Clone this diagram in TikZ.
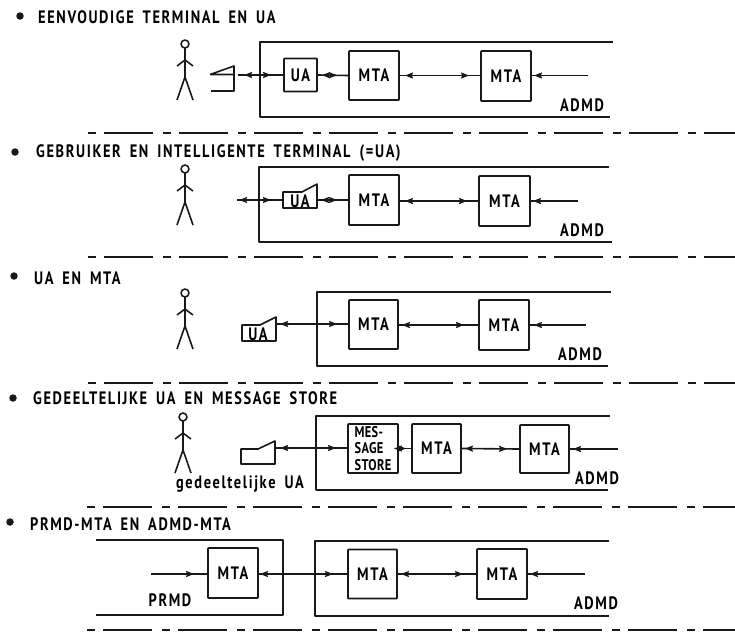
\documentclass[tikz,border=0pt]{standalone}
\usepackage{fontspec}
\setmainfont{PT Sans}
\newfontfamily\dinfont[FakeStretch=0.8,LetterSpace=9,WordSpace=1.7]{PT Sans}
\newfontfamily\dinsmall[FakeStretch=0.8,LetterSpace=2]{PT Sans}
\usetikzlibrary{arrows.meta,decorations.markings}
\tikzset{
  x=1pt,y=-1pt,
  every path/.append style={line join=round},
  tx/.style={inner sep=0pt,font=\fontsize{18}{18}\dinfont\bfseries},
  cbox/.style={draw=black!90,line width=1.8pt,rounded corners=0.6pt,inner sep=0pt,tx},
  dombox/.style={draw=black!90,line width=1.8pt},
  sep/.style={draw=black!90,line width=1.8pt,dash pattern=on 8pt off 8pt on 49pt off 10pt},
  title/.style={anchor=west,tx},
  lab/.style={tx},
  bul/.style={circle,fill=black!90,inner sep=0pt,minimum size=7.5pt},
  conn/.style n args={2}{line width=1.6pt,draw=black!90,postaction={decorate},
    decoration={markings,
      mark=at position #1pt with {\arrow{Stealth[length=8pt,width=6pt,inset=1pt,reversed]}},
      mark=at position -#2pt with {\arrow{Stealth[length=8pt,width=6pt,inset=1pt]}}}},
  tipstart/.style={line width=1.6pt,draw=black!90,postaction={decorate},
    decoration={markings,mark=at position #1pt with {\arrow{Stealth[length=8pt,width=6pt,inset=1pt,reversed]}}}},
  tipend/.style={line width=1.6pt,draw=black!90,postaction={decorate},
    decoration={markings,mark=at position -#1pt with {\arrow{Stealth[length=8pt,width=6pt,inset=1pt]}}}},
  fig/.style={draw=black!90,line width=1.6pt},
  term/.style={draw=black!90,line width=1.6pt}
}
\newcommand{\person}[2]{%
  \begin{scope}[shift={(#1,#2)}]
    \draw[fig] (0,0) circle (4);
    \draw[fig] (0,4) -- (0,33) (-8,22) -- (0,16) -- (8,22) (-8,56) -- (0,33) -- (8,56);
  \end{scope}}
\begin{document}
\begin{tikzpicture}
\useasboundingbox (0,0) rectangle (735,632);
\fill[white] (0,0) rectangle (735,632);

% Panel 1
\node[bul] (b1) at (20,16) {};
\node[title] (t1) at (38,17) {EENVOUDIGE TERMINAL EN UA};
\person{185}{44}
\draw[term] (210,74.5) -- (234,66) -- (234,91) -- (211,91) (210,74.5) -- (234,74.5);
\coordinate (tm1) at (238,75);
\draw[dombox] (613,42) -- (260,42) -- (260,117) -- (610,117);
\node[cbox,minimum width=33pt,minimum height=33pt] (ua1) at (300.5,75) {UA};
\node[cbox,minimum width=50pt,minimum height=49pt] (m11) at (374,75.5) {MTA};
\node[cbox,minimum width=50pt,minimum height=50pt] (m12) at (506,76) {MTA};
\coordinate (e1) at (588,75.5);
\draw[conn={14}{12}] (tm1) -- (ua1.west);
\draw[conn={12}{11}] (ua1.east) -- (m11.west);
\draw[conn={13}{11}] (m11.east |- e1) -- (m12.west |- e1);
\draw[tipstart=10] (m12.east |- e1) -- (e1);
\node[lab] (a1) at (582,105) {ADMD};
\coordinate (s1a) at (88,133); \coordinate (s1b) at (735,133);
\draw[sep] (s1a) -- (s1b);

% Panel 2
\node[bul] (b2) at (15,152) {};
\node[title] (t2) at (36,153) {GEBRUIKER EN INTELLIGENTE TERMINAL (=UA)};
\person{185}{169}
\draw[dombox] (609,167) -- (259,167) -- (259,242) -- (612,242);
\draw[term] (283,192) -- (302,192) -- (317,184) -- (317,208) -- (283,208) -- cycle;
\node[lab] (ua2) at (300,201) {UA};
\coordinate (tm2) at (317,200);
\coordinate (s2) at (237,200);
\coordinate (e2) at (578,201);
\node[cbox,minimum width=50pt,minimum height=50pt] (m21) at (374,200) {MTA};
\node[cbox,minimum width=51pt,minimum height=50pt] (m22) at (504.5,201) {MTA};
\draw[conn={10}{12}] (s2) -- (283,200);
\draw[conn={12}{11}] (tm2) -- (m21.west);
\draw[conn={13}{11}] (m21.east |- e2) -- (m22.west |- e2);
\draw[tipstart=10] (m22.east |- e2) -- (e2);
\node[lab] (a2) at (582,230) {ADMD};
\coordinate (s2a) at (88,257); \coordinate (s2b) at (735,257);
\draw[sep] (s2a) -- (s2b);

% Panel 3
\node[bul] (b3) at (14,276) {};
\node[title] (t3) at (34,278) {UA EN MTA};
\person{185}{293}
\draw[dombox] (611,292) -- (317,292) -- (317,366) -- (608,366);
\draw[term] (242,325) -- (260,325) -- (276,317) -- (276,341) -- (242,341) -- cycle;
\node[lab] (ua3) at (258,334) {UA};
\coordinate (tm3) at (277,324);
\coordinate (e3) at (586,325);
\node[cbox,minimum width=49pt,minimum height=49pt] (m31) at (373.5,324.5) {MTA};
\node[cbox,minimum width=50pt,minimum height=50pt] (m32) at (504,325) {MTA};
\draw[conn={11}{11}] (tm3) -- (m31.west |- tm3);
\draw[conn={11}{14}] (m31.east |- e3) -- (m32.west |- e3);
\draw[tipstart=12] (m32.east |- e3) -- (e3);
\node[lab] (a3) at (580,354) {ADMD};
\coordinate (s3a) at (88,383); \coordinate (s3b) at (735,383);
\draw[sep] (s3a) -- (s3b);

% Panel 4
\node[bul] (b4) at (13,398) {};
\node[title] (t4) at (33,398) {GEDEELTELIJKE UA EN MESSAGE STORE};
\person{183}{417}
\draw[dombox] (610,416) -- (316,416) -- (316,490) -- (608,490);
\draw[term] (241,449) -- (258,449) -- (275,441) -- (275,464) -- (241,464) -- cycle;
\coordinate (tm4) at (276,448);
\coordinate (e4) at (618,449);
\node[cbox,minimum width=50pt,minimum height=49pt,align=left,font=\fontsize{15.5}{16.5}\dinsmall\bfseries] (ms) at (373,448.5) {MES-\\SAGE\\STORE};
\node[cbox,minimum width=49pt,minimum height=49pt] (m41) at (436.5,448.5) {MTA};
\node[cbox,minimum width=49pt,minimum height=48pt] (m42) at (544.5,449) {MTA};
\draw[conn={12}{11}] (tm4) -- (ms.west |- tm4);
\draw[conn={3}{5}] (ms.east) -- (m41.west);
\draw[conn={11}{12}] (m41.east) -- (m42.west);
\draw[tipstart=11] (m42.east |- e4) -- (e4);
\node[lab] (a4) at (597,478) {ADMD};
\node[lab] (g4) at (240,484) {gedeeltelijke UA};
\coordinate (s4a) at (87,507); \coordinate (s4b) at (735,507);
\draw[sep] (s4a) -- (s4b);

% Panel 5
\node[bul] (b5) at (10,522) {};
\node[title] (t5) at (30,524) {PRMD-MTA EN ADMD-MTA};
\draw[dombox] (96,540) -- (283,540) -- (283,615) -- (96,615);
\draw[dombox] (609,541) -- (315,541) -- (315,616) -- (609,616);
\coordinate (s5) at (151,574);
\coordinate (e5) at (585,574);
\node[cbox,minimum width=50pt,minimum height=50pt] (m50) at (233,573) {MTA};
\node[cbox,minimum width=49pt,minimum height=49pt] (m51) at (372.5,574) {MTA};
\node[cbox,minimum width=50pt,minimum height=50pt] (m52) at (502,574) {MTA};
\draw[tipend=13] (s5) -- (m50.west |- s5);
\draw[conn={9}{14}] (m50.east |- s5) -- (m51.west |- s5);
\draw[conn={11}{13}] (m51.east |- s5) -- (m52.west |- s5);
\draw[tipstart=10] (m52.east |- s5) -- (e5);
\node[lab] (p5) at (170,600) {PRMD};
\node[lab] (a5) at (596,603) {ADMD};
\coordinate (s5a) at (87,630); \coordinate (s5b) at (735,630);
\draw[sep] (s5a) -- (s5b);
\end{tikzpicture}
\end{document}
